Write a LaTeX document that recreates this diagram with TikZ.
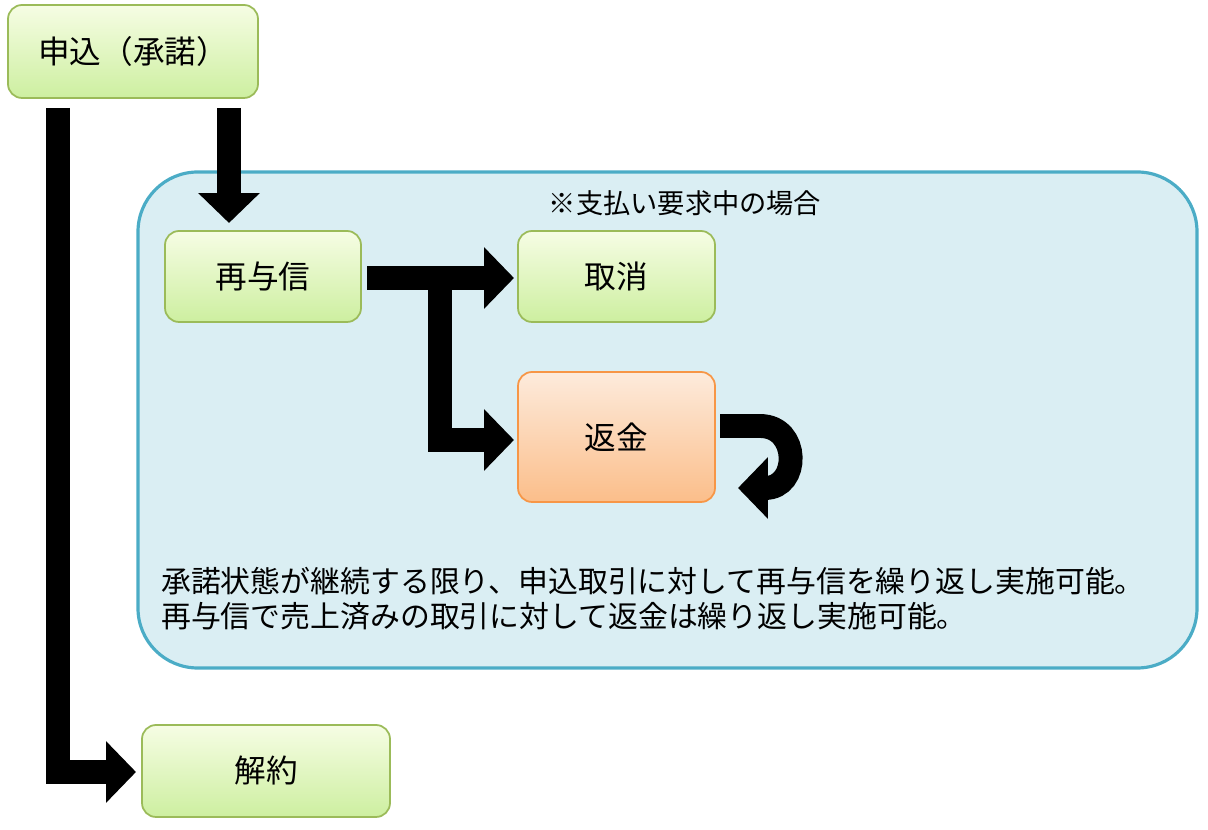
\documentclass[tikz,border=0pt]{standalone}
\usepackage{fontspec}
\setmainfont{Noto Sans CJK JP}
\usetikzlibrary{arrows.meta}
\definecolor{gtop}{HTML}{F6FDE4}\definecolor{gbot}{HTML}{CDEFA0}\definecolor{gbd}{HTML}{9BBB59}
\definecolor{otop}{HTML}{FDEBDC}\definecolor{obot}{HTML}{FBBE8A}\definecolor{obd}{HTML}{F79646}
\definecolor{bfill}{HTML}{DAEEF3}\definecolor{bbd}{HTML}{4BACC6}
\begin{document}
\begin{tikzpicture}[x=0.02cm,y=-0.02cm,
 gbox/.style={draw=gbd,line width=1pt,rounded corners=8pt,top color=gtop,bottom color=gbot,font=\fontsize{18}{20}\selectfont,inner sep=0pt},
 obox/.style={draw=obd,line width=1pt,rounded corners=8pt,top color=otop,bottom color=obot,font=\fontsize{18}{20}\selectfont,inner sep=0pt},
 fat/.style={line width=13.6pt,miter limit=10,-{Triangle[length=17pt,width=34pt]}}]
\useasboundingbox (0,0) rectangle (1208,830);
\node[draw=bbd,line width=1.8pt,fill=bfill,rounded corners=34pt,minimum width=1059*0.02cm,minimum height=496*0.02cm] (area) at (667.5,420) {};
\node[font=\fontsize{15.5}{18}\selectfont] (cap) at (685,203) {※支払い要求中の場合};
\node[gbox,minimum width=250*0.02cm,minimum height=93*0.02cm] (mos) at (133,51.5) {申込（承諾）};
\node[gbox,minimum width=196*0.02cm,minimum height=91*0.02cm] (sai) at (263,276.5) {再与信};
\node[gbox,minimum width=197*0.02cm,minimum height=91*0.02cm] (tor) at (616.5,276.5) {取消};
\node[obox,minimum width=197*0.02cm,minimum height=130*0.02cm] (hen) at (616.5,437) {返金};
\node[gbox,minimum width=248*0.02cm,minimum height=92*0.02cm] (kai) at (266,771) {解約};
\coordinate (a1) at (58,108); \coordinate (a2) at (58,772); \coordinate (a3) at (136,772);
\draw[fat] (a1) -- (a2) -- (a3);
\coordinate (b1) at (229,108); \coordinate (b2) at (229,223);
\draw[fat] (b1) -- (b2);
\coordinate (c1) at (367,278); \coordinate (c2) at (514,278);
\coordinate (c3) at (440,278); \coordinate (c4) at (440,440); \coordinate (c5) at (514,440);
\draw[fat] (c1) -- (c2);
\draw[fat] (c3) -- (c4) -- (c5);
\coordinate (d1) at (720,426); \coordinate (d2) at (738,488);
\draw[fat] (d1) -- (760,426) .. controls (800,426) and (800,488) .. (765,488) -- (d2);
\node[anchor=west,font=\fontsize{17}{20}\selectfont,align=left] (txt) at (155,599) {承諾状態が継続する限り、申込取引に対して再与信を繰り返し実施可能。\\再与信で売上済みの取引に対して返金は繰り返し実施可能。};
\end{tikzpicture}
\end{document}
